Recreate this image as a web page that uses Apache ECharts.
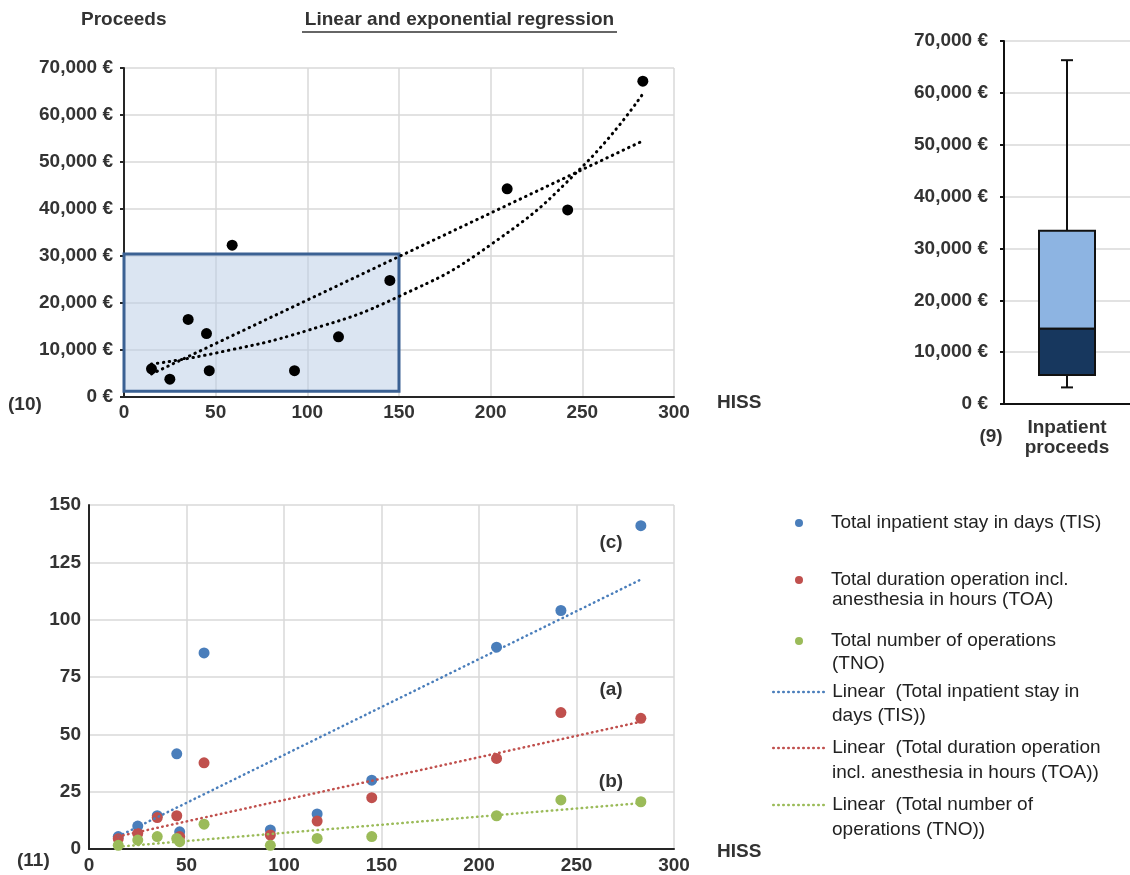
<!DOCTYPE html>
<html>
<head>
<meta charset="utf-8">
<script src="https://cdn.jsdelivr.net/npm/echarts@6/dist/echarts.min.js"></script>
<style>
html,body{margin:0;padding:0;background:#fff;}
#c{width:1130px;height:875px;}
</style>
</head>
<body>
<div id="c"></div>
<script>
// ---- data ----
const hiss = [15, 25, 35, 45, 46.5, 59, 93, 117, 145, 209, 242, 283];
const proceeds = [6000, 3800, 16500, 13500, 5600, 32300, 5600, 12800, 24800, 44300, 39800, 67200];
const linTrendTop = [[15, 4900], [283, 54500]];
const expTrendTop = [[15, 7000], [50, 9350], [100, 14150], [150, 21400], [200, 32400], [250, 49000], [283, 64500]];
const focusArea = [[0, 1200], [150, 30400]];

const boxCategory = ['Inpatient\nproceeds'];
const boxStats = [[3200, 5600, 14500, 33400, 66300]]; // min, q1, median, q3, max

const tis = [5.4, 10, 14.5, 41.5, 7.5, 85.5, 8.3, 15.3, 30, 88, 104, 141];
const toa = [4.5, 6.8, 13.7, 14.5, 5.4, 37.6, 6.1, 12.2, 22.4, 39.5, 59.5, 57];
const tno = [1.6, 3.9, 5.4, 4.6, 3.2, 10.8, 1.6, 4.6, 5.4, 14.5, 21.4, 20.6];
const tisTrend = [[15, 5.5], [283, 117.5]];
const toaTrend = [[15, 5.5], [283, 55.5]];
const tnoTrend = [[15, 1], [283, 20]];

const names = {
  tis: 'Total inpatient stay in days (TIS)',
  toa: 'Total duration operation incl.\nanesthesia in hours (TOA)',
  tno: 'Total number of operations\n(TNO)',
  ltis: 'Linear  (Total inpatient stay in\ndays (TIS))',
  ltoa: 'Linear  (Total duration operation\nincl. anesthesia in hours (TOA))',
  ltno: 'Linear  (Total number of\noperations (TNO))'
};

// ---- styling ----
const FONT = 'Liberation Sans, Arial, sans-serif';
const TXT = '#333';
const BLUE = '#4a7ebb', RED = '#c0504d', GREEN = '#9bbb59';
const fmtEuro = v => String(v).replace(/\B(?=(\d{3})+(?!\d))/g, ',') + ' €';
const pair = (xs, ys) => xs.map((x, i) => [x, ys[i]]);

const axisLineDark = {show: true, lineStyle: {color: '#262626', width: 2}};
const split = {show: true, lineStyle: {color: '#d9d9d9', width: 1.5}};
const lbl = (extra) => Object.assign({color: TXT, fontWeight: 'bold', fontSize: 19, fontFamily: FONT}, extra || {});

// legend entries: first text line is the legend label; the second line is placed right under it
const legendRows = [
  {name: names.tis, y: 523, isLine: false},
  {name: names.toa, y: 580, y2: 600, isLine: false},
  {name: names.tno, y: 641, y2: 664, isLine: false},
  {name: names.ltis, y: 692, y2: 716, isLine: true},
  {name: names.ltoa, y: 748, y2: 773, isLine: true},
  {name: names.ltno, y: 805, y2: 830, isLine: true}
];
const LEG_X = 772, LEG_W = 54, LEG_TEXT_X = LEG_X + LEG_W + 5;

function legendItem(row) {
  const l = {
    data: [row.name], orient: 'vertical', left: row.isLine ? LEG_X : LEG_X + LEG_W / 2 - 4,
    top: row.y - 11.25, padding: 0,
    itemWidth: LEG_W, itemHeight: 8, selectedMode: false,
    formatter: n => n.split('\n')[0],
    textStyle: {color: '#222', fontSize: 19, fontFamily: FONT, lineHeight: 22.5}
  };
  if (row.isLine) {
    l.itemStyle = {opacity: 0};
    l.lineStyle = {width: 2.5, type: [0.5, 4.5], cap: 'round'};
  }
  return l;
}
const legendSecondLines = legendRows.filter(r => r.y2).map(r => ({
  type: 'text', x: LEG_TEXT_X + 1, y: r.y2,
  style: {text: r.name.split('\n')[1], fill: '#222', font: '19px ' + FONT, textVerticalAlign: 'middle'}
}));

const chart = echarts.init(document.getElementById('c'), null, {renderer: 'canvas'});
const option = {
  animation: false,
  backgroundColor: '#fff',
  textStyle: {fontFamily: FONT},
  grid: [
    {left: 124, top: 68, width: 550, height: 329},
    {left: 1004, top: 41, width: 141, height: 363},
    {left: 89, top: 505, width: 585, height: 344}
  ],
  xAxis: [
    {gridIndex: 0, type: 'value', min: 0, max: 300, interval: 50,
      axisLine: axisLineDark, axisTick: {show: false}, splitLine: split,
      axisLabel: lbl({margin: 6})},
    {gridIndex: 1, type: 'category', data: boxCategory,
      axisLine: {show: true, lineStyle: {color: '#111', width: 2}}, axisTick: {show: false},
      axisLabel: lbl({margin: 14, lineHeight: 20})},
    {gridIndex: 2, type: 'value', min: 0, max: 300, interval: 50,
      axisLine: axisLineDark, axisTick: {show: false}, splitLine: split,
      axisLabel: lbl({margin: 7})}
  ],
  yAxis: [
    {gridIndex: 0, type: 'value', min: 0, max: 70000, interval: 10000,
      axisLine: axisLineDark, axisTick: {show: true, length: 4, lineStyle: {color: '#262626', width: 2}},
      splitLine: split, axisLabel: lbl({margin: 11, formatter: fmtEuro})},
    {gridIndex: 1, type: 'value', min: 0, max: 70000, interval: 10000,
      axisLine: {show: true, lineStyle: {color: '#111', width: 2}},
      axisTick: {show: true, length: 4, lineStyle: {color: '#111', width: 2}},
      splitLine: split, axisLabel: lbl({margin: 16, formatter: fmtEuro})},
    {gridIndex: 2, type: 'value', min: 0, max: 150, interval: 25,
      axisLine: axisLineDark, axisTick: {show: false},
      splitLine: split, axisLabel: lbl({margin: 8})}
  ],
  legend: legendRows.map(legendItem),
  series: [
    // top chart
    {type: 'scatter', xAxisIndex: 0, yAxisIndex: 0, symbolSize: 11,
      itemStyle: {color: '#000', opacity: 1}, data: pair(hiss, proceeds), z: 4,
      markArea: {silent: true,
        itemStyle: {color: 'rgba(184,204,230,0.5)', borderColor: '#3b6193', borderWidth: 3},
        data: [[{coord: focusArea[0]}, {coord: focusArea[1]}]]}},
    {type: 'line', xAxisIndex: 0, yAxisIndex: 0, symbol: 'none', data: linTrendTop, z: 5,
      lineStyle: {color: '#000', width: 3, type: [0.5, 5.5], cap: 'round'}},
    {type: 'line', xAxisIndex: 0, yAxisIndex: 0, symbol: 'none', smooth: true, data: expTrendTop, z: 5,
      lineStyle: {color: '#000', width: 3, type: [0.5, 5.5], cap: 'round'}},
    // box chart
    {type: 'custom', xAxisIndex: 1, yAxisIndex: 1, z: 5,
      data: boxStats.map((s, i) => [i].concat(s)),
      encode: {x: 0, y: [1, 2, 3, 4, 5]},
      renderItem: function (params, api) {
        const x = api.value(0);
        const pMin = api.coord([x, api.value(1)]);
        const pQ1 = api.coord([x, api.value(2)]);
        const pMed = api.coord([x, api.value(3)]);
        const pQ3 = api.coord([x, api.value(4)]);
        const pMax = api.coord([x, api.value(5)]);
        const cx = pMed[0], hw = 28, cap = 6;
        const ls = {stroke: '#111', lineWidth: 2, fill: null};
        return {type: 'group', children: [
          {type: 'line', shape: {x1: cx, y1: pQ3[1], x2: cx, y2: pMax[1]}, style: ls},
          {type: 'line', shape: {x1: cx - cap, y1: pMax[1], x2: cx + cap, y2: pMax[1]}, style: ls},
          {type: 'line', shape: {x1: cx, y1: pQ1[1], x2: cx, y2: pMin[1]}, style: ls},
          {type: 'line', shape: {x1: cx - cap, y1: pMin[1], x2: cx + cap, y2: pMin[1]}, style: ls},
          {type: 'rect', shape: {x: cx - hw, y: pQ3[1], width: hw * 2, height: pMed[1] - pQ3[1]},
            style: {fill: '#8db4e2', stroke: '#111', lineWidth: 2}},
          {type: 'rect', shape: {x: cx - hw, y: pMed[1], width: hw * 2, height: pQ1[1] - pMed[1]},
            style: {fill: '#17375e', stroke: '#111', lineWidth: 2}}
        ]};
      }},
    // bottom chart
    {name: names.tis, type: 'scatter', xAxisIndex: 2, yAxisIndex: 2, symbolSize: 11,
      itemStyle: {color: BLUE, opacity: 1}, data: pair(hiss, tis), z: 3},
    {name: names.toa, type: 'scatter', xAxisIndex: 2, yAxisIndex: 2, symbolSize: 11,
      itemStyle: {color: RED, opacity: 1}, data: pair(hiss, toa), z: 3},
    {name: names.tno, type: 'scatter', xAxisIndex: 2, yAxisIndex: 2, symbolSize: 11,
      itemStyle: {color: GREEN, opacity: 1}, data: pair(hiss, tno), z: 3},
    {name: names.ltis, type: 'line', xAxisIndex: 2, yAxisIndex: 2, symbol: 'none', data: tisTrend, z: 4,
      itemStyle: {color: BLUE}, lineStyle: {color: BLUE, width: 2.5, type: [0.5, 4.5], cap: 'round'}},
    {name: names.ltoa, type: 'line', xAxisIndex: 2, yAxisIndex: 2, symbol: 'none', data: toaTrend, z: 4,
      itemStyle: {color: RED}, lineStyle: {color: RED, width: 2.5, type: [0.5, 4.5], cap: 'round'}},
    {name: names.ltno, type: 'line', xAxisIndex: 2, yAxisIndex: 2, symbol: 'none', data: tnoTrend, z: 4,
      itemStyle: {color: GREEN}, lineStyle: {color: GREEN, width: 2.5, type: [0.5, 4.5], cap: 'round'}}
  ],
  graphic: [
    {type: 'text', left: 81, top: 10, style: {text: 'Proceeds', fill: TXT, font: 'bold 19px ' + FONT}},
    {type: 'text', x: 459.5, y: 20, style: {text: 'Linear and exponential regression', fill: TXT,
      font: 'bold 19px ' + FONT, textAlign: 'center', textVerticalAlign: 'middle'}},
    {type: 'line', shape: {x1: 302, y1: 32, x2: 617, y2: 32}, style: {stroke: TXT, lineWidth: 1.5}},
    {type: 'text', x: 717, y: 403, style: {text: 'HISS', fill: TXT, font: 'bold 19px ' + FONT, textVerticalAlign: 'middle'}},
    {type: 'text', x: 8, y: 405, style: {text: '(10)', fill: TXT, font: 'bold 19px ' + FONT, textVerticalAlign: 'middle'}},
    {type: 'text', x: 991, y: 437, style: {text: '(9)', fill: TXT, font: 'bold 19px ' + FONT, textAlign: 'center', textVerticalAlign: 'middle'}},
    {type: 'text', x: 717, y: 852, style: {text: 'HISS', fill: TXT, font: 'bold 19px ' + FONT, textVerticalAlign: 'middle'}},
    {type: 'text', x: 17, y: 861, style: {text: '(11)', fill: TXT, font: 'bold 19px ' + FONT, textVerticalAlign: 'middle'}},
    {type: 'text', x: 611, y: 543, style: {text: '(c)', fill: TXT, font: 'bold 19px ' + FONT, textAlign: 'center', textVerticalAlign: 'middle'}},
    {type: 'text', x: 611, y: 690, style: {text: '(a)', fill: TXT, font: 'bold 19px ' + FONT, textAlign: 'center', textVerticalAlign: 'middle'}},
    {type: 'text', x: 611, y: 782, style: {text: '(b)', fill: TXT, font: 'bold 19px ' + FONT, textAlign: 'center', textVerticalAlign: 'middle'}}
  ].concat(legendSecondLines)
};
chart.setOption(option);
</script>
</body>
</html>
